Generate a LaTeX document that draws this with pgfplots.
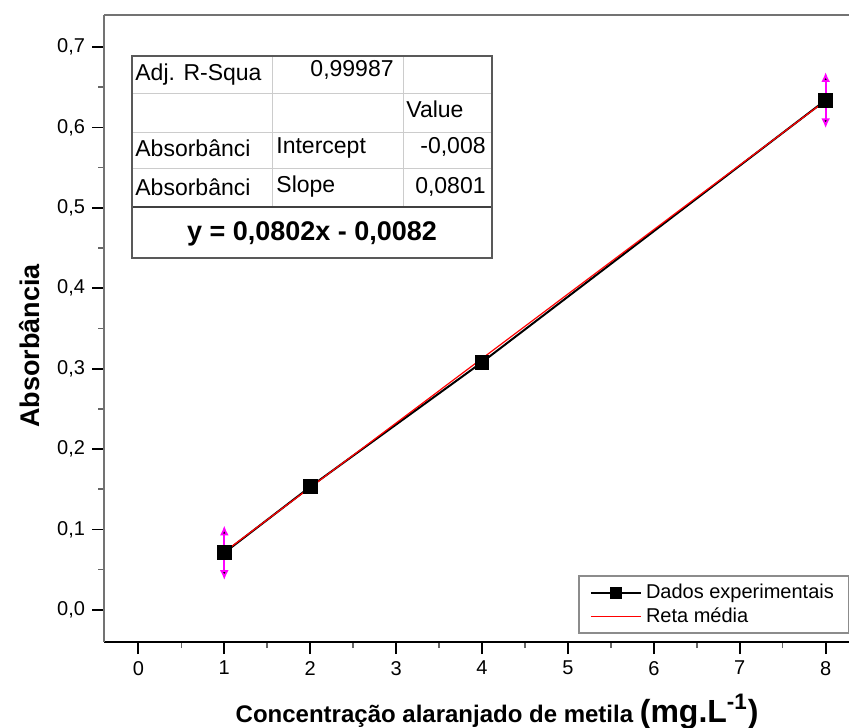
\documentclass[border=0pt]{standalone}
\usepackage{fontspec}
\setmainfont{Liberation Sans}
\usepackage{pgfplots}
\pgfplotsset{compat=1.18}
\usetikzlibrary{calc,arrows.meta}
\definecolor{errmag}{RGB}{255,0,255}
\definecolor{axgray}{gray}{0.45}
\newcommand{\tabfont}{\fontsize{11.5}{13}\selectfont}
\pgfplotsset{
  datlegend/.style={legend image code/.code={\draw[mark repeat=2,mark phase=2,##1,mark size=2.5pt] plot coordinates {(0cm,0cm) (0.44cm,0cm) (0.88cm,0cm)};}},
  linlegend/.style={legend image code/.code={\draw[##1] (0cm,0cm) -- (0.88cm,0cm);}},
}

\begin{document}
\begin{tikzpicture}
\begin{axis}[
  name=ax,
  scale only axis,
  width=378pt, height=313.75pt,
  xmin=-0.4, xmax=8.4,
  ymin=-0.04, ymax=0.7405,
  axis x line*=bottom,
  axis y line*=left,
  x axis line style={black, line width=1pt},
  y axis line style={axgray, line width=1.4pt},
  tick align=outside,
  xtick={0,1,2,3,4,5,6,7,8},
  ytick={0,0.1,0.2,0.3,0.4,0.5,0.6,0.7},
  minor x tick num=1,
  minor y tick num=1,
  major tick length=6pt,
  minor tick length=3pt,
  major tick style={black, line width=0.9pt},
  minor tick style={black!60, line width=0.8pt},
  /pgf/number format/assume math mode=true,
  tick label style={font=\fontsize{10}{12}\selectfont},
  y tick label style={/pgf/number format/.cd, use comma, fixed, fixed zerofill, precision=1},
  xlabel={\bfseries\fontsize{12}{14}\selectfont Concentração alaranjado de metila {\fontsize{16}{18}\selectfont(mg.L\textsuperscript{-1})}},
  ylabel={\bfseries\fontsize{13.5}{15}\selectfont Absorbância},
  xlabel style={at={(axis description cs:0.52,-0.1275)}, anchor=base},
  ylabel style={at={(axis description cs:-0.0979,0.472)}, anchor=center},
  legend style={at={(0.627,0.1068)}, anchor=north west, draw=black!45, line width=0.9pt,
    font=\fontsize{10}{12}\selectfont, row sep=-1pt, inner xsep=5.5pt},
  legend cell align=left,
]
\addplot[black, line width=1pt, mark=square*, mark size=3.2pt, mark options={solid}, datlegend]
  coordinates {(1,0.071) (2,0.153) (4,0.308) (8,0.634)};
\addlegendentry{Dados experimentais\hspace{4pt}}
\addplot[only marks, mark=none, forget plot,
  error bars/.cd, y dir=both, y explicit, error mark=none,
  error bar style={draw=errmag, line width=0.9pt, -{Latex[length=5pt,width=4.5pt]}}]
  coordinates {(1,0.071) +- (0,0.034) (8,0.634) +- (0,0.035)};
\addplot[red, line width=0.6pt, linlegend]
  coordinates {(1,0.072) (8,0.6334)};
\addlegendentry{Reta média}
\draw[axgray, line width=1.4pt] (rel axis cs:0,1) -- (rel axis cs:1,1);
\end{axis}

% fit results table
\begin{scope}[shift={(ax.north west)}, x=0.5pt, y=-0.5pt, shift={(-104,-14.5)}]
\fill[white] (132,56) rectangle (492,258);
\draw[black!20, line width=0.5pt] (132,93) -- (492,93) (132,132) -- (492,132) (132,168) -- (492,168)
  (272,56) -- (272,207) (403,56) -- (403,207);
\draw[black!75, line width=0.8pt] (132,207) -- (492,207);
\draw[black!65, line width=0.8pt] (132,56) rectangle (492,258);
\node[anchor=base west, inner sep=0pt, font=\tabfont] at (135,80) {Adj. R-Squa};
\node[anchor=base east, inner sep=0pt, font=\tabfont] at (394,76) {0,99987};
\node[anchor=base west, inner sep=0pt, font=\tabfont] at (406,117) {Value};
\node[anchor=base west, inner sep=0pt, font=\tabfont] at (135,156) {Absorbânci};
\node[anchor=base west, inner sep=0pt, font=\tabfont] at (276,153) {Intercept};
\node[anchor=base east, inner sep=0pt, font=\tabfont] at (486,153) {-0,008};
\node[anchor=base west, inner sep=0pt, font=\tabfont] at (135,195) {Absorbânci};
\node[anchor=base west, inner sep=0pt, font=\tabfont] at (276,192) {Slope};
\node[anchor=base east, inner sep=0pt, font=\tabfont] at (486,193) {0,0801};
\node[anchor=base, inner sep=0pt, font=\bfseries\fontsize{13.5}{15}\selectfont] at (312,240) {y = 0,0802x - 0,0082};
\end{scope}

\pgfresetboundingbox
\path[use as bounding box] ($(ax.south west)+(-52pt,-42.5pt)$) rectangle ($(ax.north east)+(-5.5pt,7.25pt)$);
\end{tikzpicture}
\end{document}
